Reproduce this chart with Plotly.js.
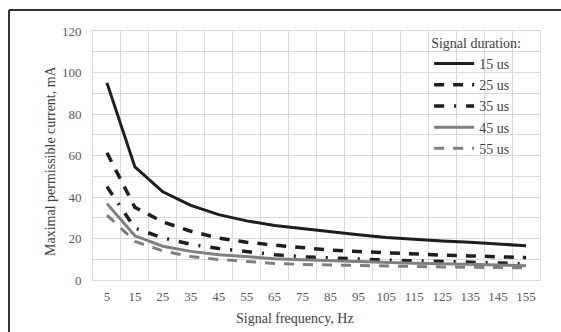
<!DOCTYPE html>
<html>
<head>
<meta charset="utf-8">
<script src="https://cdn.plot.ly/plotly-3.0.1.min.js"></script>
<style>
  html, body { margin: 0; padding: 0; background: #ffffff; }
  #chart { width: 561px; height: 332px; }
</style>
</head>
<body>
<div id="chart"></div>
<script>
// Categories (signal frequency, Hz)
const frequencies = ['5','15','25','35','45','55','65','75','85','95','105','115','125','135','145','155'];

// Maximal permissible current, mA, per signal duration
const us15 = [95, 54.5, 42.5, 36, 31.5, 28.5, 26.3, 24.7, 23.1, 21.8, 20.5, 19.6, 18.8, 18.2, 17.4, 16.5];
const us25 = [61.3, 35, 28, 23.5, 20.2, 18.2, 16.8, 15.4, 14.4, 13.7, 13.0, 12.4, 12.0, 11.6, 11.2, 10.8];
const us35 = [45, 25, 20.3, 17.2, 15.2, 13.6, 12.2, 11.2, 10.6, 10.1, 9.6, 9.3, 8.8, 8.5, 8.2, 7.8];
const us45 = [36.8, 21.3, 16.3, 13.8, 12.2, 11.1, 10.3, 9.8, 9.3, 8.9, 8.5, 8.1, 7.8, 7.5, 7.2, 6.9];
const us55 = [31.3, 18.6, 14, 11.3, 9.9, 8.8, 8.0, 7.5, 7.2, 6.9, 6.7, 6.5, 6.3, 6.1, 6.0, 5.9];

const seriesNames = ['15 us', '25 us', '35 us', '45 us', '55 us'];
const yTickVals = [0, 20, 40, 60, 80, 100, 120];

const FONT = 'Liberation Serif, Times New Roman, serif';
const dark = '#1e1e1e';
const grey = '#7f7f7f';

const styles = [
  {color: dark, width: 3, dash: 'solid'},
  {color: dark, width: 3.5, dash: '10px,9px'},
  {color: dark, width: 3.5, dash: '10px,10px,2px,10px'},
  {color: grey, width: 3, dash: 'solid'},
  {color: grey, width: 3, dash: '10px,9px'}
];

const allSeries = [us15, us25, us35, us45, us55];
const traces = allSeries.map((vals, i) => ({
  type: 'scatter',
  mode: 'lines',
  x: frequencies,
  y: vals,
  name: seriesNames[i],
  line: styles[i],
  hoverinfo: 'skip'
}));

const gridC = '#d9d9d9';
const titleFont = {family: FONT, size: 14, color: '#404040'};

const layout = {
  width: 561,
  height: 332,
  margin: {l: 93, r: 21, t: 31, b: 52},
  paper_bgcolor: '#ffffff',
  plot_bgcolor: '#ffffff',
  font: {family: FONT, size: 13, color: '#595959'},
  showlegend: true,
  legend: {
    x: 0.752, xanchor: 'left',
    y: 1.005, yanchor: 'top',
    bgcolor: 'rgba(0,0,0,0)',
    itemwidth: 40,
    font: titleFont,
    title: {text: 'Signal duration:', font: titleFont},
    tracegroupgap: 0
  },
  xaxis: {
    type: 'category',
    range: [-0.5, 15.5],
    tickson: 'boundaries',
    showgrid: true,
    gridcolor: gridC,
    gridwidth: 1,
    zeroline: false,
    showline: true,
    linecolor: gridC,
    linewidth: 1,
    mirror: true,
    ticks: '',
    ticklabelstandoff: 4,
    tickfont: {family: FONT, size: 13, color: '#595959'},
    automargin: false,
    fixedrange: true
  },
  yaxis: {
    range: [0, 120],
    tickvals: yTickVals,
    ticktext: yTickVals.map(String),
    showgrid: true,
    gridcolor: gridC,
    gridwidth: 1,
    minor: {dtick: 10, tick0: 0, showgrid: true, gridcolor: gridC, gridwidth: 1, ticks: ''},
    zeroline: false,
    showline: true,
    linecolor: gridC,
    linewidth: 1,
    mirror: true,
    ticks: '',
    ticklabelstandoff: 8,
    tickfont: {family: FONT, size: 13, color: '#595959'},
    automargin: false,
    fixedrange: true
  },
  annotations: [
    {text: 'Signal frequency, Hz', xref: 'paper', yref: 'paper',
     x: (295 - 93) / 447, y: (280 - 318) / 249, xanchor: 'center', yanchor: 'middle',
     showarrow: false, font: titleFont},
    {text: 'Maximal permissible current, mA', xref: 'paper', yref: 'paper',
     x: (50 - 93) / 447, y: (280 - 161) / 249, xanchor: 'center', yanchor: 'middle',
     textangle: -90, showarrow: false, font: titleFont}
  ],
  shapes: [
    // outer frame (left and top edges visible in the reference)
    {type: 'line', xref: 'paper', yref: 'paper',
     x0: (9 - 93) / 447, x1: (9 - 93) / 447, y0: (280 - 10) / 249, y1: (280 - 340) / 249,
     line: {color: '#333333', width: 2}},
    {type: 'line', xref: 'paper', yref: 'paper',
     x0: (9 - 93) / 447, x1: (570 - 93) / 447, y0: (280 - 10) / 249, y1: (280 - 10) / 249,
     line: {color: '#333333', width: 2}}
  ]
};

Plotly.newPlot('chart', traces, layout, {staticPlot: true, displayModeBar: false}).then(gd => {
  // lengthen the legend line samples to match the reference
  gd.querySelectorAll('.legend .legendlines path').forEach(p => p.setAttribute('d', 'M5,0h40'));
});
</script>
</body>
</html>
